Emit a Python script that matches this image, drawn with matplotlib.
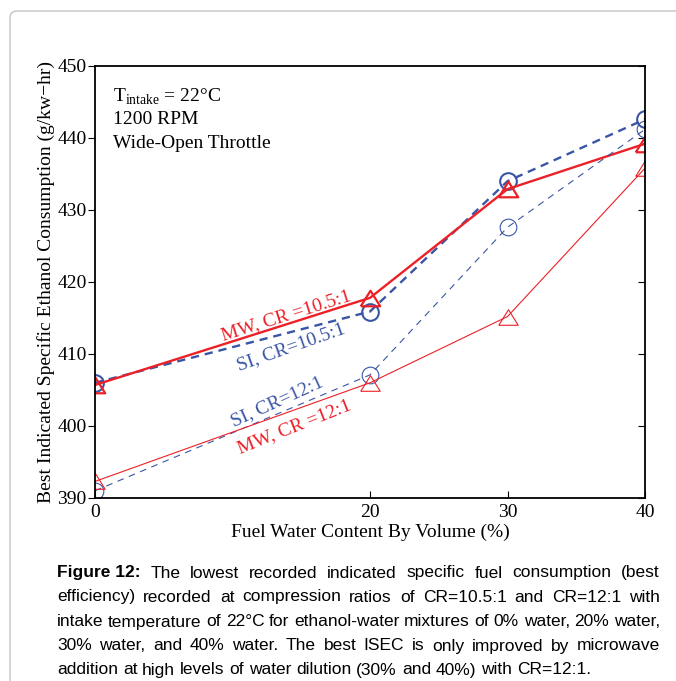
import matplotlib
matplotlib.use("Agg")
import matplotlib.pyplot as plt
from matplotlib.patches import FancyBboxPatch
from matplotlib.transforms import IdentityTransform

plt.rcParams['font.family'] = 'Liberation Serif'
plt.rcParams['mathtext.fontset'] = 'custom'
plt.rcParams['mathtext.rm'] = 'Liberation Serif'

water = [0, 20, 30, 40]
si_105 = [406.0, 415.9, 434.0, 442.6]
mw_105 = [405.7, 417.8, 432.9, 439.2]
si_12 = [391.0, 407.1, 427.6, 441.2]
mw_12 = [392.3, 406.0, 415.2, 435.8]

red = '#ec2027'
blue = '#3a55a5'
tri = [(-1, -0.8), (1, -0.8), (0, 0.8), (-1, -0.8)]

caption = [
    [("Figure 12:", "bold"), "The", "lowest", "recorded", "indicated", "specific", "fuel", "consumption", "(best"],
    ["efficiency)", "recorded", "at", "compression", "ratios", "of", "CR=10.5:1", "and", "CR=12:1", "with"],
    ["intake", "temperature", "of", "22°C", "for", "ethanol-water", "mixtures", "of", "0%", "water,", "20%", "water,"],
    ["30%", "water,", "and", "40%", "water.", "The", "best", "ISEC", "is", "only", "improved", "by", "microwave"],
    ["addition", "at", "high", "levels", "of", "water", "dilution", "(30%", "and", "40%)", "with", "CR=12:1."],
]

W, H = 676, 681
fig = plt.figure(figsize=(W / 100, H / 100), dpi=100)
ax = fig.add_axes([95 / W, 1 - 498 / H, 550 / W, 432 / H])

ax.plot(water, si_105, color=blue, lw=1.7, ls=(0, (3.5, 2.5)), marker='o', ms=12,
        mfc='none', mec=blue, mew=1.5)
ax.plot(water, mw_105, color=red, lw=1.7, marker=tri, ms=14, mfc='none', mec=red, mew=1.6)
ax.plot(water, si_12, color=blue, lw=0.8, ls=(0, (6, 5)), marker='o', ms=12,
        mfc='none', mec=blue, mew=0.8)
ax.plot(water, mw_12, color=red, lw=0.8, marker=tri, ms=14, mfc='none', mec=red, mew=0.8)

ax.set_xlim(0, 40)
ax.set_ylim(390, 450)
ax.set_xticks(water)
ax.set_yticks(range(390, 451, 10))
ax.tick_params(axis='x', direction='in', length=5, labelsize=14, pad=4)
ax.tick_params(axis='y', direction='out', length=5, labelsize=14, right=True, pad=1)
for lab in ax.yaxis.get_ticklines()[1::2]:
    lab.set_marker(matplotlib.lines.TICKLEFT)
for sp in ax.spines.values():
    sp.set_linewidth(1.3)

ax.set_xlabel("Fuel Water Content By Volume (%)", fontsize=14, labelpad=2)
ax.set_ylabel("Best Indicated Specific Ethanol Consumption (g/kw\u2212hr)", fontsize=14, labelpad=2)

ax.text(1.31, 445.7, r"T$_{\rm intake}$ = 22°C", fontsize=14, va='center')
ax.text(1.31, 442.5, "1200 RPM", fontsize=14, va='center')
ax.text(1.31, 439.3, "Wide-Open Throttle", fontsize=14, va='center')

ax.text(13.9, 415.3, "MW, CR =10.5:1", color=red, fontsize=14, rotation=17.5,
        ha='center', va='center', rotation_mode='anchor')
ax.text(14.25, 411.0, "SI, CR=10.5:1", color=blue, fontsize=14, rotation=19.5,
        ha='center', va='center', rotation_mode='anchor')
ax.text(13.27, 403.4, "SI, CR=12:1", color=blue, fontsize=14, rotation=24.4,
        ha='center', va='center', rotation_mode='anchor')
ax.text(14.47, 399.9, "MW, CR =12:1", color=red, fontsize=14, rotation=21.7,
        ha='center', va='center', rotation_mode='anchor')

# page border
fig.patches.append(FancyBboxPatch((10, -20), 720, H - 11 + 20,
                                  boxstyle='round,pad=0,rounding_size=7',
                                  transform=IdentityTransform(), fill=False,
                                  ec='#c4c4c4', lw=1))

# justified caption
renderer = fig.canvas.get_renderer()
x0, x1 = 57, 660
ys = [573, 597, 622, 646, 670]
for i, line in enumerate(caption):
    words = [w if isinstance(w, tuple) else (w, "normal") for w in line]
    texts = []
    for w, weight in words:
        t = fig.text(0, 1 - ys[i] / H, w, fontsize=12.5, family='Liberation Sans',
                     weight=weight, va='center', ha='left')
        texts.append(t)
    widths = [t.get_window_extent(renderer).width for t in texts]
    if i == len(caption) - 1:
        gap = renderer.points_to_pixels(12.5) * 0.28
    else:
        gap = (x1 - x0 - sum(widths)) / (len(words) - 1)
    x = x0
    for t, wd in zip(texts, widths):
        t.set_x(x / W)
        x += wd + gap

fig.savefig("out.png", dpi=100)
